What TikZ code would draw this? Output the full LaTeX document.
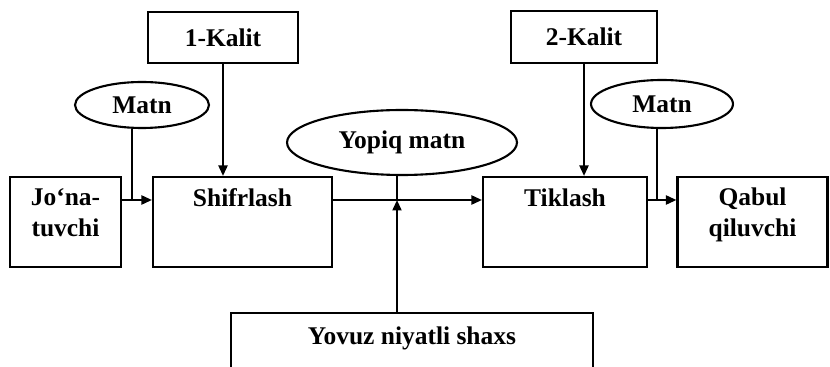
\documentclass[tikz,border=0pt]{standalone}
\usepackage{fontspec}
\setmainfont{Liberation Serif}
\usetikzlibrary{arrows.meta,positioning,shapes.geometric}

\begin{document}
\begin{tikzpicture}[
  x=0.02cm, y=-0.02cm,
  every node/.style={font=\fontsize{14.5}{17.8}\selectfont\bfseries},
  box/.style={draw, line width=1.2pt, align=center, inner ysep=0pt, inner xsep=2pt,
    text height=0.58cm, text depth=1.22cm},
  box2/.style={box, text height=1.2cm, text depth=0.6cm},
  keybox/.style={draw, line width=1.2pt, inner sep=0pt, minimum height=1.03cm},
  oval/.style={draw, ellipse, line width=1.2pt, inner sep=0pt},
  arr/.style={-{Triangle[length=2.1mm, width=1.8mm]}, line width=1.2pt},
  ln/.style={line width=1.2pt}]
\useasboundingbox (0,0) rectangle (830,367);
\clip (0,0) rectangle (830,367);
\node[box2, minimum width=2.22cm] (jon) at (65.5,222) {Jo‘na-\\tuvchi};
\node[box, minimum width=3.58cm] (shifr) at (242.5,222) {Shifrlash};
\node[box, minimum width=3.28cm] (tik) at (565,222) {Tiklash};
\node[box2, minimum width=3.00cm] (qabul) at (752.5,222) {Qabul\\qiluvchi};
\node[keybox, minimum width=3.00cm] (kalit1) at (223,37.5) {1-Kalit};
\node[keybox, minimum width=2.92cm] (kalit2) at (584,37) {2-Kalit};
\node[oval, minimum width=2.68cm, minimum height=0.92cm] (matn1) at (142,105) {Matn};
\node[oval, minimum width=2.84cm, minimum height=0.96cm] (matn2) at (662,104) {Matn};
\node[oval, minimum width=4.6cm, minimum height=1.3cm] (yopiq) at (402,142.5) {Yopiq matn};
\node[draw, line width=1.2pt, inner ysep=0pt, minimum width=7.24cm,
  text height=0.62cm, text depth=1.0cm, anchor=north] (yovuz) at (412,312) {Yovuz niyatli shaxs};
\coordinate (j1) at (132,200);
\coordinate (j2) at (397,200);
\coordinate (j3) at (657,200);
\foreach \a/\b in {jon/shifr,shifr/tik,tik/qabul} \draw[arr] (\a.east |- j1) -- (\b.west |- j1);
\foreach \a/\b in {kalit1/shifr,kalit2/tik} \draw[arr] (\a.south) -- (\a.south |- \b.north);
\draw[ln] (matn1.south -| j1) -- (j1);
\draw[ln] (matn2.south -| j3) -- (j3);
\draw[ln] (yopiq.south -| j2) -- (j2);
\draw[arr] (yovuz.north -| j2) -- (j2);
\end{tikzpicture}
\end{document}
